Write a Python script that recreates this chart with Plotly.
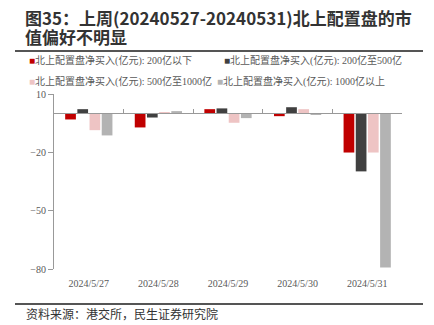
import plotly.graph_objects as go

dates = ["2024/5/27", "2024/5/28", "2024/5/29", "2024/5/30", "2024/5/31"]
names = ["北上配置盘净买入(亿元): 200亿以下", "北上配置盘净买入(亿元): 200亿至500亿",
         "北上配置盘净买入(亿元): 500亿至1000亿", "北上配置盘净买入(亿元): 1000亿以上"]
s_lt200 = [-3.1, -7.2, 2.2, -1.4, -20.1]
s_200_500 = [2.2, -2.1, 2.6, 3.2, -29.8]
s_500_1000 = [-8.6, 0.5, -4.8, 2.2, -20.1]
s_gt1000 = [-11.3, 1.2, -2.4, -0.7, -79.2]
series = [s_lt200, s_200_500, s_500_1000, s_gt1000]
colors = ["#C00000", "#404040", "#EEC4C4", "#B3B3B3"]
yticks = [-80, -50, -20, 10]

W, H = 434, 325
ml, mr, mt, mb = 54, 32, 94, 56
pw = W - ml - mr
ph = H - mt - mb

def px(x):
    return (x - ml) / pw

def py(y):
    return (H - mb - y) / ph

fig = go.Figure()
for nm, vals, c in zip(names, series, colors):
    fig.add_trace(go.Bar(x=dates, y=vals, name=nm, marker=dict(color=c, line=dict(width=0)),
                         showlegend=False))
# helper trace for the zero-line axis
fig.add_trace(go.Scatter(x=dates, y=[None]*5, xaxis="x2", yaxis="y", showlegend=False,
                         hoverinfo="skip"))

serif = "Liberation Serif, Noto Sans CJK SC, serif"
fig.update_layout(
    width=W, height=H,
    margin=dict(l=ml, r=mr, t=mt, b=mb, autoexpand=False),
    paper_bgcolor="white", plot_bgcolor="white",
    barmode="group", bargap=0.3, bargroupgap=0.12,
    font=dict(family=serif, color="#595959", size=10),
    showlegend=False,
    xaxis=dict(type="category", showline=False, ticks="", showgrid=False,
               tickfont=dict(family=serif, size=10, color="#595959"),
               ticklabelstandoff=7),
    xaxis2=dict(type="category", overlaying="x", matches="x", anchor="free",
                position=80/90, showline=True, linecolor="#999999", linewidth=1,
                ticks="inside", tickson="boundaries", ticklen=4, tickcolor="#999999",
                showticklabels=False, showgrid=False),
    yaxis=dict(range=[-80, 10], tickvals=yticks, showgrid=False, zeroline=False,
               showline=True, linecolor="#999999", linewidth=1, ticks="outside",
               ticklen=5, tickcolor="#999999",
               tickfont=dict(family=serif, size=10, color="#595959")),
)

# legend entries (two rows, two per row)
leg_pos = [(27, 61), (222, 61), (27, 81), (215, 81)]
for nm, c, (lx, ly) in zip(names, colors, leg_pos):
    fig.add_annotation(
        text=f"<span style='color:{c};font-size:10px'>■</span>{nm}",
        xref="paper", yref="paper", x=px(lx), y=py(ly), xanchor="left", yanchor="middle",
        showarrow=False, font=dict(family=serif, size=10, color="#595959"))

title_lines = ["图35：上周(20240527-20240531)北上配置盘的市", "值偏好不明显"]
for line, ty in zip(title_lines, [17, 36]):
    fig.add_annotation(text=f"<b>{line}</b>",
                       xref="paper", yref="paper", x=px(24), y=py(ty), xanchor="left",
                       yanchor="middle", align="left", showarrow=False, borderpad=0,
                       font=dict(family="Noto Sans CJK SC", size=17, color="#333333"))
fig.add_annotation(text="资料来源：港交所，民生证券研究院",
                   xref="paper", yref="paper", x=px(24), y=py(313), xanchor="left", yanchor="middle",
                   showarrow=False,
                   font=dict(family="Noto Sans CJK SC", size=12, color="#333333"))
fig.add_shape(type="line", xref="paper", yref="paper", x0=px(15), x1=px(423), y0=py(51), y1=py(51),
              line=dict(color="#555555", width=2))
fig.add_shape(type="line", xref="paper", yref="paper", x0=px(15), x1=px(423), y0=py(304), y1=py(304),
              line=dict(color="#555555", width=2))

fig.write_html("out.html")
